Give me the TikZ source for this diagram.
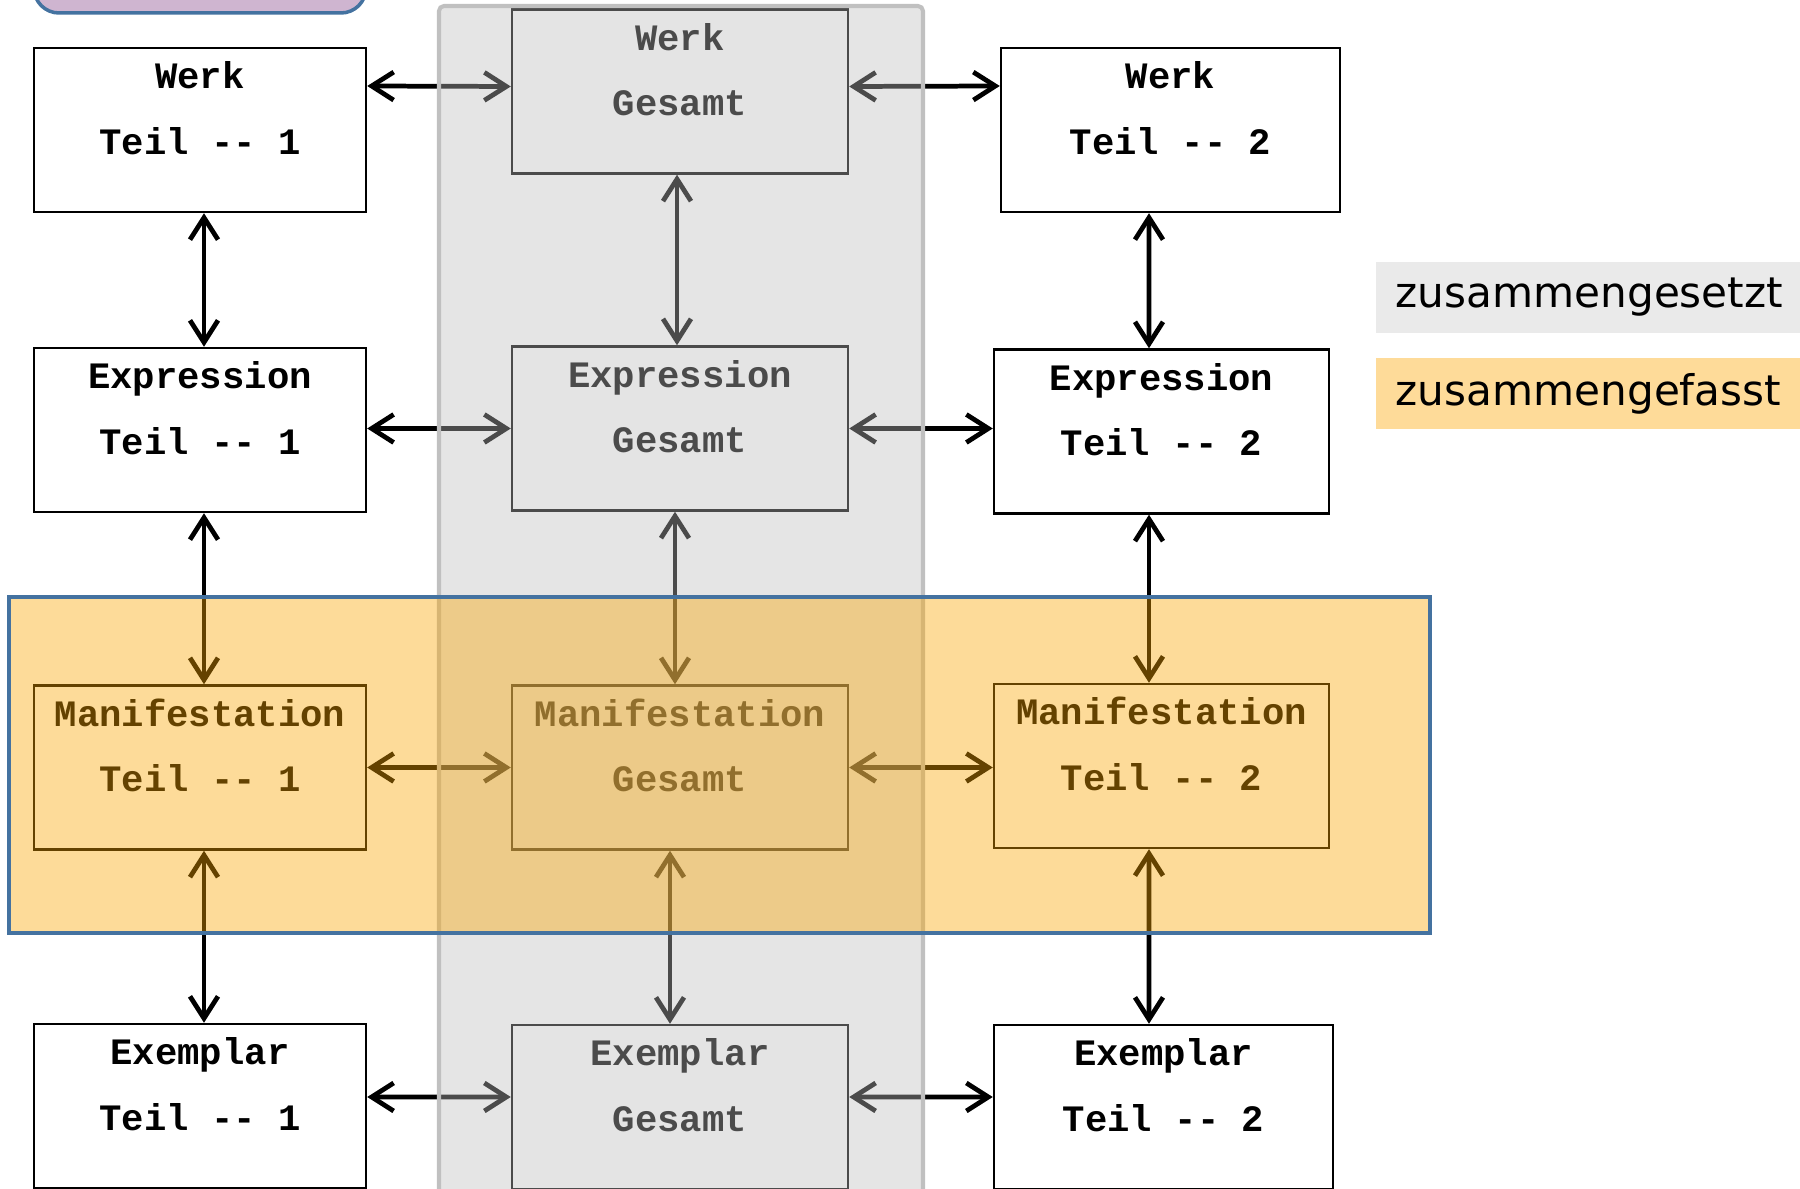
\documentclass[tikz,border=0pt]{standalone}
\usepackage{fontspec}
\usetikzlibrary{arrows.meta}

\newfontfamily\kastenfont{Liberation Mono}
\newfontfamily\legendefont{DejaVu Sans}

\definecolor{grauschicht}{RGB}{189,189,189}
\definecolor{graurand}{RGB}{192,192,192}
\definecolor{orangeschicht}{RGB}{250,165,0}
\definecolor{blaurand}{RGB}{68,114,160}
\definecolor{lila}{RGB}{207,181,208}
\definecolor{legendegrau}{RGB}{234,234,234}
\definecolor{legendeorange}{RGB}{254,219,153}

\tikzset{
  kasten/.style={draw, line width=0.7pt, fill=white, minimum width=3.32cm, minimum height=1.64cm,
    inner sep=0pt, align=center, text height=1.065cm, text depth=0.575cm,
    font=\kastenfont\bfseries\fontsize{10.6}{18.7}\selectfont},
  pfeil/.style={{Straight Barb[length=2.2mm,width=2.8mm]}-{Straight Barb[length=2.2mm,width=2.8mm]},
    line width=1.35pt},
  legende/.style={anchor=west, minimum height=0.71cm, text width=4.4cm, inner xsep=0.2cm,
    align=left, font=\legendefont\fontsize{12}{14}\selectfont}
}

\begin{document}
\begin{tikzpicture}
    \useasboundingbox (0,0) rectangle (18,11.89);
    \clip (0,0) rectangle (18,11.89);

    % the box cut off at the top
    \draw[fill=lila, draw=blaurand, line width=1pt, rounded corners=0.25cm] (0.34,11.76) rectangle (3.66,12.5);

    % Teil 1
    \node[kasten] (werk1) at (2.00,10.59) {Werk\\Teil -- 1};
    \node[kasten] (expr1) at (2.00,7.59) {Expression\\Teil -- 1};
    \node[kasten] (mani1) at (2.00,4.215) {Manifestation\\Teil -- 1};
    \node[kasten] (expl1) at (2.00,0.83) {Exemplar\\Teil -- 1};

    % Gesamt
    \node[kasten, minimum width=3.36cm] (werkg) at (6.80,10.975) {Werk\\Gesamt};
    \node[kasten, minimum width=3.36cm] (exprg) at (6.80,7.605) {Expression\\Gesamt};
    \node[kasten, minimum width=3.36cm] (manig) at (6.80,4.215) {Manifestation\\Gesamt};
    \node[kasten, minimum width=3.36cm] (explg) at (6.80,0.82) {Exemplar\\Gesamt};

    % Teil 2
    \node[kasten, minimum width=3.39cm] (werk2) at (11.705,10.59) {Werk\\Teil -- 2};
    \node[kasten, minimum width=3.35cm] (expr2) at (11.615,7.575) {Expression\\Teil -- 2};
    \node[kasten, minimum width=3.35cm] (mani2) at (11.615,4.23) {Manifestation\\Teil -- 2};
    \node[kasten, minimum width=3.39cm] (expl2) at (11.635,0.82) {Exemplar\\Teil -- 2};

    % across
    \draw[pfeil] (werk1.east |- 0,11.03) -- ([yshift=0.5mm]werkg.west);
    \draw[pfeil] ([yshift=0.5mm]werkg.east) -- (werk2.west |- 0,11.03);
    \draw[pfeil] (expr1.east |- exprg.west) -- (exprg.west);
    \draw[pfeil] (exprg.east) -- (exprg.east -| expr2.west);
    \draw[pfeil] (mani1.east |- manig.west) -- (manig.west);
    \draw[pfeil] (manig.east) -- (manig.east -| mani2.west);
    \draw[pfeil] (expl1.east |- 0,0.92) -- ([yshift=1mm]explg.west);
    \draw[pfeil] ([yshift=1mm]explg.east) -- (expl2.west |- 0,0.92);

    % down
    \draw[pfeil] ([xshift=0.4mm]werk1.south) -- ([xshift=0.4mm]expr1.north);
    \draw[pfeil] ([xshift=0.4mm]expr1.south) -- ([xshift=0.4mm]mani1.north);
    \draw[pfeil] ([xshift=0.4mm]mani1.south) -- ([xshift=0.4mm]expl1.north);
    \draw[pfeil] ([xshift=-0.3mm]werkg.south) -- ([xshift=-0.3mm]exprg.north);
    \draw[pfeil] ([xshift=-0.5mm]exprg.south) -- ([xshift=-0.5mm]manig.north);
    \draw[pfeil] ([xshift=-1mm]manig.south) -- ([xshift=-1mm]explg.north);
    \draw[pfeil] ([xshift=-2.15mm]werk2.south) -- ([xshift=-1.25mm]expr2.north);
    \draw[pfeil] ([xshift=-1.25mm]expr2.south) -- ([xshift=-1.25mm]mani2.north);
    \draw[pfeil] ([xshift=-1.25mm]mani2.south) -- ([xshift=-1.45mm]expl2.north);

    % zusammengesetzt: grey column over the Gesamt boxes
    \fill[grauschicht, opacity=0.4] (4.39,-0.5) rectangle (9.23,11.83);
    \draw[graurand, line width=1.15pt, rounded corners=0.05cm] (4.39,-0.5) rectangle (9.23,11.83);

    % zusammengefasst: orange band over the Manifestation row
    \fill[orangeschicht, opacity=0.4] (0.09,2.56) rectangle (14.30,5.92);
    \draw[blaurand, line width=1pt] (0.09,2.56) rectangle (14.30,5.92);

    % legend
    \node[legende, fill=legendegrau] (lgrau) at (13.75,8.915) {zusammengesetzt};
    \node[legende, fill=legendeorange] (lorange) at (13.75,7.95) {zusammengefasst};
\end{tikzpicture}
\end{document}
